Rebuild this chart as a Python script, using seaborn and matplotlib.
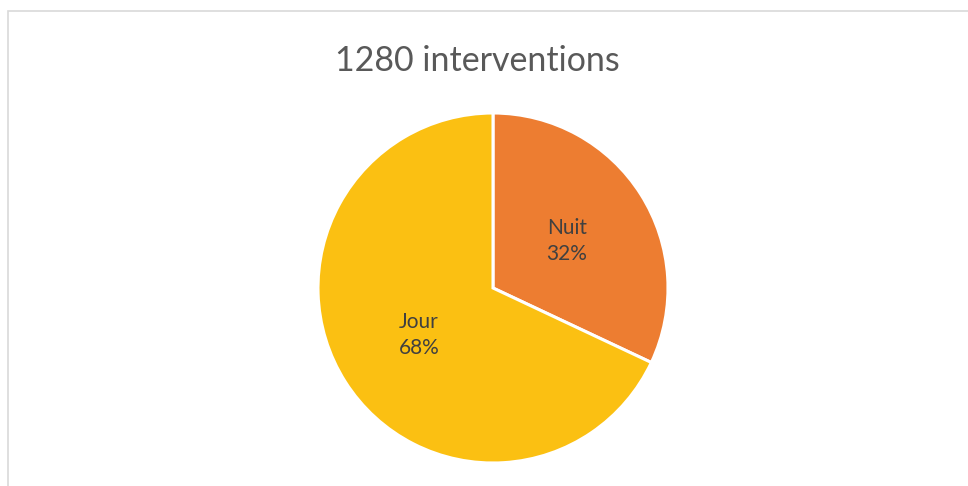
import matplotlib
matplotlib.use("Agg")
import matplotlib.pyplot as plt
import matplotlib.patches as patches
import seaborn as sns

# données
categories = ["Nuit", "Jour"]
values = [32, 68]
title = "1280 interventions"

sns.set_theme(style="white")
plt.rcParams['font.family'] = ['Lato', 'DejaVu Sans']

colors = ["#ED7D31", "#FBC012"]

fig = plt.figure(figsize=(9.68, 4.86), dpi=100)
fig.patch.set_facecolor("white")

# cadre gris autour du graphique
border = patches.Rectangle((7.5 / 968, -0.1), 1.0, (486 - 11.5) / 486 + 0.1,
                           transform=fig.transFigure, fill=False,
                           edgecolor="#d9d9d9", linewidth=1.2)
fig.patches.append(border)

ax = fig.add_axes([318 / 968, 23 / 486, 350 / 968, 350 / 486])


def make_label(pct, labels=iter(categories)):
    return f"{next(labels)}\n{pct:.0f}%"


wedges, texts, autotexts = ax.pie(
    values, colors=colors, startangle=90, counterclock=False,
    autopct=make_label, pctdistance=0.5,
    wedgeprops=dict(edgecolor="white", linewidth=2.2),
    textprops=dict(color="#404040", fontsize=15, linespacing=1.4),
)
ax.set_xlim(-1, 1)
ax.set_ylim(-1, 1)
ax.set_aspect("equal")
ax.axis("off")

fig.text(477.5 / 968, 1 - 61 / 486, title, ha="center", va="center",
         fontsize=24.5, color="#595959")

fig.savefig("out.png", dpi=100)
